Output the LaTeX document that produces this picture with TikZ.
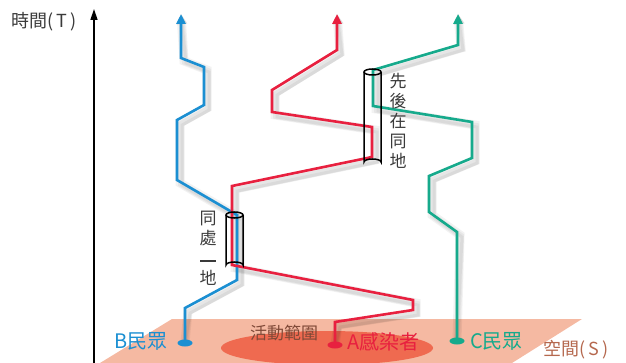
\documentclass[tikz,border=0pt]{standalone}
\usepackage{fontspec}
\setmainfont{Noto Sans CJK TC}
\usetikzlibrary{arrows.meta}
\definecolor{cB}{HTML}{1B8FD2}
\definecolor{cA}{HTML}{E8203F}
\definecolor{cC}{HTML}{16AA8C}
\definecolor{planec}{HTML}{F5B9A2}
\definecolor{blobc}{HTML}{EF6A50}
\definecolor{brownT}{HTML}{B5684E}
\definecolor{txtg}{HTML}{3A3A3A}
\begin{document}
\begin{tikzpicture}[x=1pt,y=-1pt,
  life/.style={line width=2.6pt, line join=miter, -{Triangle[length=10pt,width=9pt]}},
  shad/.style={draw=black, opacity=0.05, -{Triangle[length=10pt,width=10pt]}},
  cyl/.style={draw=black, line width=1.5pt},
  lbl/.style={font=\fontsize{20}{20}\selectfont, inner sep=0pt, anchor=west},
  vtext/.style={font=\fontsize{17}{20}\selectfont, text=txtg, align=center, inner sep=0pt}
]
\useasboundingbox (0,0) rectangle (626,363);
% plane and activity range
\fill[planec] (172,319) -- (582,319) -- (512,363) -- (100,363) -- cycle;
\fill[blobc] (327,348) ellipse [x radius=106, y radius=17];
\node[font=\fontsize{17}{17}\selectfont, text=brownT!70!black, inner sep=0pt] (range) at (284,333) {活動範圍};
\node[font=\fontsize{18}{18}\selectfont, text=brownT, inner sep=0pt, anchor=west] (space) at (543,350) {空間(\,S\,)};
% time axis
\coordinate (ax0) at (94,363);
\coordinate (ax1) at (94,9);
\draw[line width=1.5pt, -{Triangle[length=11pt,width=7pt]}] (ax0) -- (ax1);
\node[font=\fontsize{18}{18}\selectfont, text=txtg, inner sep=0pt, anchor=west] (time) at (11,22) {時間(\,T\,)};
% dots / tips
\coordinate (Bdot) at (185,343); \coordinate (Btip) at (181,14);
\coordinate (Adot) at (335,345); \coordinate (Atip) at (337,14);
\coordinate (Cdot) at (457,341); \coordinate (Ctip) at (458,14);
\def\Bpath{(Bdot) -- (185,308) -- (237,280) -- (237,215) -- (177,180) -- (177,120) -- (204,105) -- (204,67) -- (181,58) -- (Btip)}
\def\Apath{(Adot) -- (335,322) -- (413,310) -- (413,300) -- (232,265) -- (232,186) -- (372,157) -- (372,127) -- (272,112) -- (272,90) -- (337,50) -- (Atip)}
\def\Cpath{(Cdot) -- (457,232) -- (429,212) -- (429,176) -- (472,158) -- (472,122) -- (373,106) -- (373,70) -- (458,45) -- (Ctip)}
% shadows
\foreach \d/\w in {3/9, 4/6, 5/3}{
  \draw[shad, line width=\w pt, shift={(\d,\d)}] \Bpath;
  \draw[shad, line width=\w pt, shift={(\d,\d)}] \Apath;
  \draw[shad, line width=\w pt, shift={(\d,\d)}] \Cpath;
}
% lifelines
\draw[life, draw=cB] \Bpath;
\draw[life, draw=cA] \Apath;
\draw[life, draw=cC] \Cpath;
\fill[cB] (Bdot) ellipse [x radius=7.5, y radius=3.5];
\fill[cA] (Adot) ellipse [x radius=7.5, y radius=3.5];
\fill[cC] (Cdot) ellipse [x radius=7.5, y radius=3.5];
% labels
\node[lbl, text=cB] (Blbl) at (114,341) {B民眾};
\node[lbl, text=cA] (Albl) at (347,342) {A感染者};
\node[lbl, text=cC] (Clbl) at (470,341) {C民眾};
% cylinder 1
\draw[cyl] (226,215) -- (226,265) arc[start angle=180, end angle=360, x radius=8.5, y radius=3] -- (243,215);
\draw[cyl] (234.5,215) ellipse [x radius=8.5, y radius=3];
% cylinder 2
\draw[cyl] (364,72) -- (364,162) arc[start angle=180, end angle=360, x radius=8.5, y radius=3] -- (381,72);
\draw[cyl] (372.5,72) ellipse [x radius=8.5, y radius=3];
% vertical texts
\node[vtext] (same) at (208,248) {同\\處\\[-2pt]\rule{16pt}{2pt}\\[2pt]地};
\node[vtext] (seq) at (398,121) {先\\後\\在\\同\\地};
\end{tikzpicture}
\end{document}
